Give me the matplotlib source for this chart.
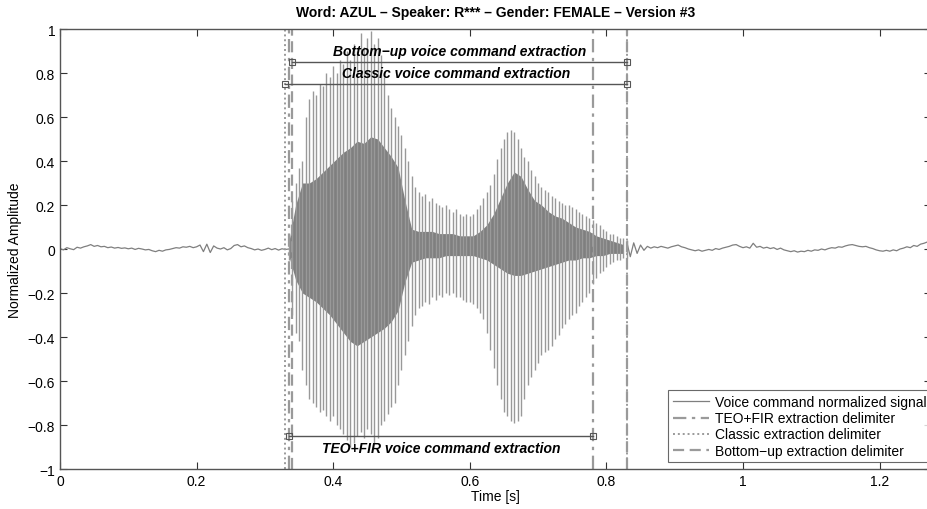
import numpy as np
import matplotlib
matplotlib.use("Agg")
import matplotlib.pyplot as plt
from matplotlib.lines import Line2D

plt.rcParams['font.family'] = ['Liberation Sans', 'DejaVu Sans']
plt.rcParams['font.size'] = 10

# ---- data ----
# background noise before / after the word (normalized amplitude)
noise_pre = [0.002, -0.004, 0.006, 0.001, -0.003, 0.008, 0.004, 0.010, 0.014, 0.020,
             0.012, 0.016, 0.010, 0.012, 0.006, 0.009, 0.004, 0.007, 0.003, 0.005,
             0.001, 0.004, -0.002, 0.003, 0.000, -0.004, -0.002, -0.008, -0.012, -0.006,
             -0.010, -0.004, -0.002, 0.002, 0.006, 0.004, 0.010, 0.008, 0.012, 0.006,
             0.010, 0.018, -0.012, 0.022, -0.016, 0.014, 0.004, 0.000, 0.006, -0.004,
             0.002, 0.016, 0.020, 0.010, 0.014, 0.006, 0.002, -0.004, 0.000, -0.006,
             -0.002, 0.004, -0.003, 0.002, -0.005, 0.001, -0.002, 0.000]
noise_post = [0.030, -0.035, 0.028, -0.020, 0.018, -0.006, 0.012, 0.004, 0.010, 0.006,
              0.012, 0.008, 0.004, 0.010, 0.014, 0.018, 0.010, 0.006, 0.000, -0.004,
              -0.008, -0.004, -0.010, -0.006, -0.002, -0.006, 0.002, -0.002, 0.004, 0.008,
              0.012, 0.018, 0.020, 0.012, 0.006, 0.010, 0.004, 0.026, 0.008, 0.012,
              0.004, 0.008, 0.002, 0.006, -0.002, 0.004, -0.004, -0.008, -0.012, -0.008,
              -0.014, -0.010, -0.012, -0.006, -0.010, -0.004, -0.006, 0.000, -0.004, 0.002,
              0.006, 0.004, 0.010, 0.008, 0.014, 0.018, 0.020, 0.016, 0.012, 0.010,
              0.012, 0.006, 0.002, -0.004, -0.008, -0.010, -0.006, -0.010, -0.004, -0.008,
              0.000, 0.004, 0.010, 0.006, 0.016, 0.012, 0.022, 0.026, 0.032]

# voiced part: peak envelope every 5 ms from 0.335 s to 0.830 s
peak_up = [0.05, 0.22, 0.30, 0.37, 0.40, 0.60, 0.68, 0.72, 0.70, 0.75,
           0.74, 0.80, 0.78, 0.83, 0.80, 0.86, 0.84, 0.90, 0.86, 0.93,
           0.90, 0.98, 0.92, 0.96, 0.99, 0.93, 0.96, 0.88, 0.78, 0.70,
           0.64, 0.60, 0.56, 0.52, 0.46, 0.40, 0.33, 0.28, 0.26, 0.24,
           0.25, 0.22, 0.23, 0.21, 0.20, 0.19, 0.20, 0.18, 0.17, 0.18,
           0.16, 0.15, 0.16, 0.15, 0.16, 0.18, 0.20, 0.23, 0.26, 0.29,
           0.34, 0.41, 0.46, 0.50, 0.53, 0.54, 0.53, 0.50, 0.46, 0.42,
           0.40, 0.36, 0.33, 0.30, 0.28, 0.27, 0.26, 0.24, 0.23, 0.22,
           0.21, 0.20, 0.20, 0.19, 0.18, 0.17, 0.16, 0.15, 0.14, 0.13,
           0.12, 0.11, 0.09, 0.08, 0.07, 0.07, 0.06, 0.05, 0.05, 0.04]
peak_lo = [-0.05, -0.30, -0.38, -0.42, -0.55, -0.62, -0.68, -0.70, -0.72, -0.74,
           -0.73, -0.76, -0.78, -0.76, -0.80, -0.82, -0.84, -0.87, -0.90, -0.88,
           -0.85, -0.83, -0.86, -0.82, -0.84, -0.88, -0.86, -0.80, -0.78, -0.75,
           -0.72, -0.70, -0.62, -0.55, -0.48, -0.42, -0.35, -0.30, -0.27, -0.26,
           -0.24, -0.25, -0.22, -0.23, -0.21, -0.22, -0.20, -0.21, -0.20, -0.22,
           -0.22, -0.23, -0.24, -0.24, -0.25, -0.27, -0.29, -0.32, -0.38, -0.46,
           -0.54, -0.62, -0.68, -0.74, -0.76, -0.78, -0.79, -0.78, -0.76, -0.68,
           -0.62, -0.58, -0.55, -0.52, -0.48, -0.47, -0.46, -0.44, -0.41, -0.39,
           -0.36, -0.34, -0.32, -0.30, -0.29, -0.26, -0.24, -0.22, -0.20, -0.16,
           -0.13, -0.11, -0.10, -0.08, -0.07, -0.06, -0.05, -0.05, -0.04, -0.04]
# dense inner part of the waveform, every 10 ms from 0.335 s to 0.825 s
core_up = [0.03, 0.20, 0.30, 0.30, 0.32, 0.35, 0.38, 0.41, 0.44, 0.46,
           0.49, 0.48, 0.51, 0.50, 0.46, 0.42, 0.37, 0.22, 0.09, 0.08,
           0.08, 0.08, 0.07, 0.07, 0.07, 0.06, 0.06, 0.06, 0.08, 0.11,
           0.16, 0.23, 0.30, 0.35, 0.33, 0.27, 0.22, 0.20, 0.17, 0.15,
           0.14, 0.12, 0.10, 0.09, 0.08, 0.06, 0.05, 0.04, 0.03, 0.02]
core_lo = [-0.03, -0.14, -0.20, -0.22, -0.24, -0.27, -0.30, -0.34, -0.38, -0.42,
           -0.44, -0.42, -0.40, -0.38, -0.36, -0.33, -0.28, -0.15, -0.06, -0.05,
           -0.04, -0.04, -0.04, -0.03, -0.03, -0.03, -0.03, -0.03, -0.04, -0.05,
           -0.07, -0.09, -0.11, -0.12, -0.12, -0.11, -0.10, -0.09, -0.08, -0.07,
           -0.06, -0.05, -0.05, -0.04, -0.04, -0.03, -0.03, -0.02, -0.02, -0.02]

# extraction limits [start, end] in seconds
teo_fir = [0.335, 0.780]
classic = [0.330, 0.830]
bottom_up = [0.340, 0.830]

title = "Word: AZUL \u2013 Speaker: R*** \u2013 Gender: FEMALE \u2013 Version #3"

# ---- plot ----
sig_col = '#7f7f7f'
delim_col = '#9a9a9a'
bar_col = '#555555'

fig = plt.figure(figsize=(9.27, 5.10), dpi=100)
ax = fig.add_axes([60/927, 40/510, 871/927, 440/510])

t_pre = np.linspace(0, 0.335, len(noise_pre))
t_post = np.linspace(0.830, 1.270, len(noise_post))
t_voice = np.linspace(0.335, 0.830, len(peak_up))
t_core = np.linspace(0.335, 0.825, len(core_up))

sig, = ax.plot(t_pre, noise_pre, color=sig_col, lw=0.9)
ax.plot(t_post, noise_post, color=sig_col, lw=0.9)
ax.vlines(t_voice, peak_lo, peak_up, color='#999999', lw=1.0)
ax.fill_between(t_core, core_lo, core_up, color=sig_col, lw=0)

# delimiters
for x in teo_fir:
    ax.axvline(x, color=delim_col, lw=1.6, ls=(0, (6, 2.5, 1.5, 2.5)))
for x in classic:
    ax.axvline(x, color=delim_col, lw=1.4, ls=(0, (1, 1.5)))
for x in bottom_up:
    ax.axvline(x, color=delim_col, lw=1.6, ls=(0, (5, 2.5)))

# extraction brackets
ax.plot(bottom_up, [0.85, 0.85], color=bar_col, lw=1.0, marker='s', ms=5,
        mfc='none', mec=bar_col, mew=0.8)
ax.plot(classic, [0.75, 0.75], color=bar_col, lw=1.0, marker='s', ms=5,
        mfc='none', mec=bar_col, mew=0.8)
ax.plot(teo_fir, [-0.85, -0.85], color=bar_col, lw=1.0, marker='s', ms=5,
        mfc='none', mec=bar_col, mew=0.8)
txt = dict(ha='center', va='center', fontsize=10, fontweight='bold', style='italic')
ax.text(np.mean(bottom_up), 0.90, "Bottom\u2212up voice command extraction", **txt)
ax.text(np.mean(classic), 0.80, "Classic voice command extraction", **txt)
ax.text(np.mean(teo_fir), -0.905, "TEO+FIR voice command extraction", **txt)

ax.set_xlim(0, 1.2753)
ax.set_ylim(-1, 1)
ax.set_xticks([0, 0.2, 0.4, 0.6, 0.8, 1.0, 1.2])
ax.set_xticklabels(['0', '0.2', '0.4', '0.6', '0.8', '1', '1.2'])
ax.set_yticks(np.arange(-1, 1.01, 0.2))
ax.set_yticklabels(['\u22121', '\u22120.8', '\u22120.6', '\u22120.4', '\u22120.2', '0',
                    '0.2', '0.4', '0.6', '0.8', '1'])
ax.tick_params(direction='in', top=True, right=True, length=5, width=0.8,
               labelsize=10, colors='#333333', labelcolor='black')
for s in ax.spines.values():
    s.set_color('#555555')
    s.set_linewidth(1.0)

ax.set_xlabel("Time [s]", fontsize=10, labelpad=1)
ax.set_ylabel("Normalized Amplitude", fontsize=10, labelpad=4)
ax.set_title(title, fontsize=10, fontweight='bold', pad=9)

handles = [
    Line2D([], [], color=sig_col, lw=0.9),
    Line2D([], [], color=delim_col, lw=1.6, ls=(0, (6, 2.5, 1.5, 2.5))),
    Line2D([], [], color=delim_col, lw=1.4, ls=(0, (1, 1.5))),
    Line2D([], [], color=delim_col, lw=1.6, ls=(0, (5, 2.5))),
]
labels = ["Voice command normalized signal", "TEO+FIR extraction delimiter",
          "Classic extraction delimiter", "Bottom\u2212up extraction delimiter"]
leg = ax.legend(handles, labels, loc='lower right', bbox_to_anchor=(1.0, 0.015),
                fontsize=10, frameon=True, fancybox=False, borderaxespad=0,
                handlelength=2.6, handletextpad=0.4, labelspacing=0.15,
                borderpad=0.35)
leg.get_frame().set_edgecolor('#444444')
leg.get_frame().set_linewidth(0.8)

fig.savefig("out.png", dpi=100)
